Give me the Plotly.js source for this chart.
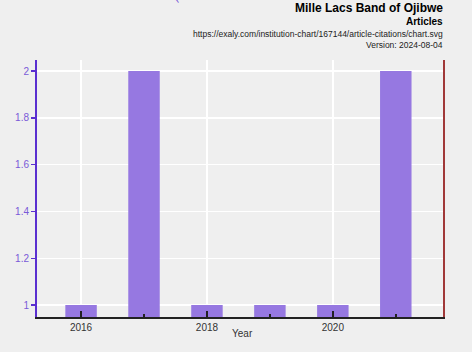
<!DOCTYPE html>
<html><head><meta charset="utf-8">
<script src="https://cdn.plot.ly/plotly-3.0.1.min.js"></script>
<style>html,body{margin:0;padding:0;background:#fff;}#chart{width:472px;height:352px;}</style>
</head><body><div id="chart"></div>
<script>
const years = [2016, 2017, 2018, 2019, 2020, 2021];
const articles = [1, 2, 1, 1, 1, 2];
const xTickVals = [2016, 2018, 2020];
const yTickVals = [1, 1.2, 1.4, 1.6, 1.8, 2];

const trace = {
  type: 'bar', x: years, y: articles,
  marker: {color: 'rgb(150,120,225)'},
  width: 0.5, hoverinfo: 'x+y'
};
const layout = {
  width: 472, height: 352,
  margin: {l: 37, r: 29, t: 60, b: 35},
  paper_bgcolor: '#efefef', plot_bgcolor: '#efefef',
  font: {family: 'Liberation Sans, Arial, sans-serif', size: 10, color: '#333'},
  showlegend: false,
  xaxis: {
    range: [2015.3, 2021.75], tickvals: xTickVals, ticktext: xTickVals.map(String),
    ticks: 'inside', ticklen: 6, tickcolor: '#222', tickwidth: 1.5,
    minor: {dtick: 1, tick0: 2016, ticks: 'inside', ticklen: 3, tickcolor: '#222', showgrid: false},
    showline: true, linecolor: '#222', linewidth: 1.5,
    gridcolor: '#ffffff', gridwidth: 1.5, zeroline: false,
    tickfont: {size: 10, color: '#333'}
  },
  yaxis: {
    range: [0.949, 2.047], tickvals: yTickVals, ticktext: ['1','1.2','1.4','1.6','1.8','2'],
    ticks: 'outside', ticklen: 4, tickcolor: '#5a2fd0', tickwidth: 1.5,
    showline: true, linecolor: '#5a2fd0', linewidth: 2,
    gridcolor: '#ffffff', gridwidth: 1.5, zeroline: false,
    tickfont: {size: 10, color: '#7a5ad8'}
  },
  yaxis2: {overlaying: 'y', side: 'right', showline: true, linecolor: '#a03838', linewidth: 1.5,
    showticklabels: false, showgrid: false, ticks: '', zeroline: false, range: [0.949, 2.047]},
  annotations: [
    {text: '<b>Mille Lacs Band of Ojibwe</b>', xref: 'paper', yref: 'paper', x: 1, y: 1, yshift: 61, xshift: 2,
     xanchor: 'right', yanchor: 'top', showarrow: false, font: {size: 12, color: '#000'}},
    {text: '<b>Articles</b>', xref: 'paper', yref: 'paper', x: 1, y: 1, yshift: 46, xshift: 2,
     xanchor: 'right', yanchor: 'top', showarrow: false, font: {size: 10, color: '#000'}},
    {text: 'https://exaly.com/institution-chart/167144/article-citations/chart.svg', xref: 'paper', yref: 'paper', x: 1, y: 1, yshift: 33, xshift: 2,
     xanchor: 'right', yanchor: 'top', showarrow: false, font: {size: 8.5, color: '#222'}},
    {text: 'Version: 2024-08-04', xref: 'paper', yref: 'paper', x: 1, y: 1, yshift: 22, xshift: 2,
     xanchor: 'right', yanchor: 'top', showarrow: false, font: {size: 8.5, color: '#222'}},
    {text: 'Year', xref: 'paper', yref: 'paper', x: 0.505, y: 0, yshift: -9,
     xanchor: 'center', yanchor: 'top', showarrow: false, font: {size: 10, color: '#333'}},
    {text: 'Articles', xref: 'paper', yref: 'paper', x: 0.36, y: 1, yshift: 53,
     xanchor: 'center', yanchor: 'bottom', textangle: -60, showarrow: false, font: {size: 10, color: '#7a5ad8'}}
  ]
};
const t2 = {type: 'scatter', x: [], y: [], yaxis: 'y2', hoverinfo: 'skip'};
Plotly.newPlot('chart', [trace, t2], layout, {displayModeBar: false, staticPlot: true});
</script></body></html>
